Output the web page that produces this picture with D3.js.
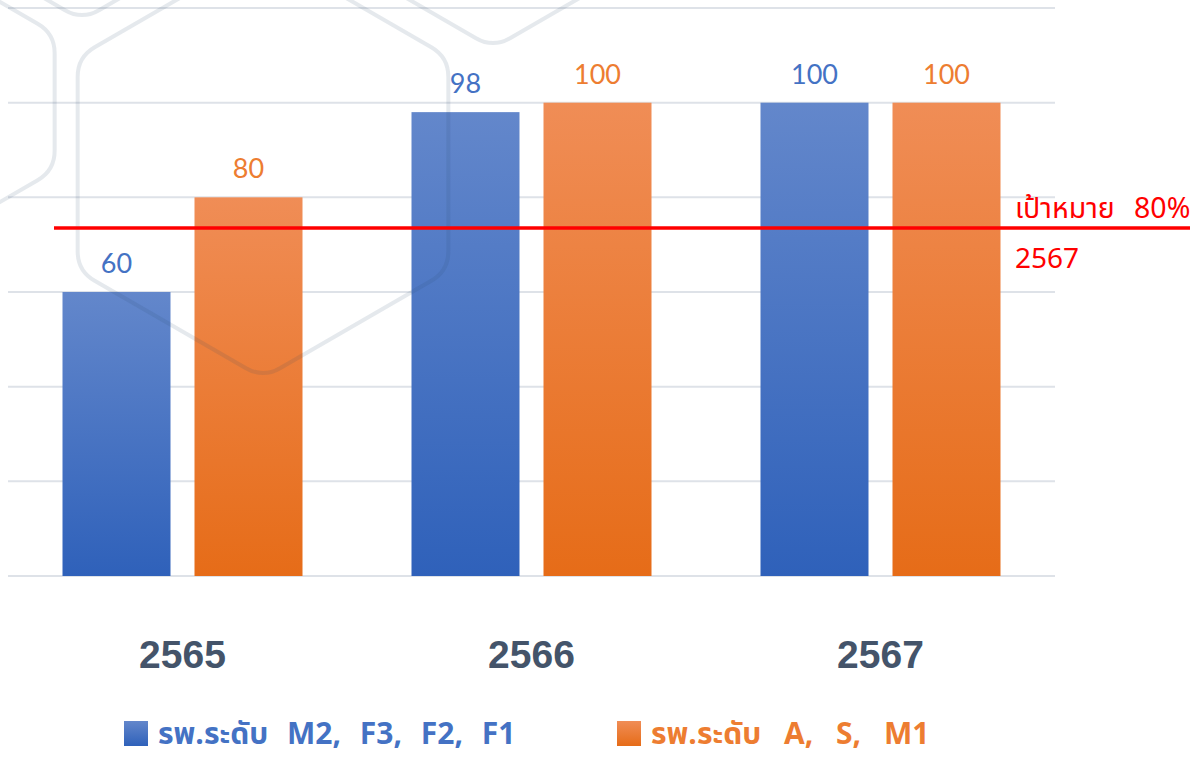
<!DOCTYPE html>
<html><head><meta charset="utf-8">
<script src="https://cdn.jsdelivr.net/npm/d3@7/dist/d3.min.js"></script>
<style>
html,body{margin:0;padding:0;background:#fff;overflow:hidden}
svg{display:block}
</style></head>
<body>
<svg id="chart" width="1201" height="759"></svg>
<script>
const years = ["2565","2566","2567"];
const seriesNames = ["รพ.ระดับ M2, F3, F2, F1","รพ.ระดับ A, S, M1"];
const seriesBlue = [60, 98, 100];
const seriesOrange = [80, 100, 100];
const yTicks = [0,20,40,60,80,100,120];
const targetLineValue = 73.5;
const targetLabel = ["เป้าหมาย 80%", "2567"];

const svg = d3.select("#chart");
const thaiFont = "'Noto Sans Thai','Noto Sans Thai UI','Loma','Garuda','Tahoma','Noto Sans',sans-serif";

const x0 = d3.scaleBand().domain(years).range([8,1055]).padding(0);
const x1 = d3.scaleBand().domain([0,1]).range([54.5, 294.5]).paddingInner(24/132).paddingOuter(0);
const y = d3.scaleLinear().domain([0,120]).range([576,8]);

const colors = ["#4472C4","#ED7D31"];
const defs = svg.append("defs");
const g1 = defs.append("linearGradient").attr("id","gBlue").attr("x1",0).attr("y1",0).attr("x2",0).attr("y2",1);
g1.append("stop").attr("offset",0).attr("stop-color","#6387CB");
g1.append("stop").attr("offset",1).attr("stop-color","#2F61BA");
const g2 = defs.append("linearGradient").attr("id","gOrange").attr("x1",0).attr("y1",0).attr("x2",0).attr("y2",1);
g2.append("stop").attr("offset",0).attr("stop-color","#F08D56");
g2.append("stop").attr("offset",1).attr("stop-color","#E66C18");
const fills = ["url(#gBlue)","url(#gOrange)"];

// gridlines
svg.append("g").selectAll("line").data(yTicks).join("line")
  .attr("x1",8).attr("x2",1055)
  .attr("y1",d=>y(d)).attr("y2",d=>y(d))
  .attr("stroke","#dee2e8").attr("stroke-width",2);

// bars
const data = years.map((yr,i)=>({yr, vals:[seriesBlue[i], seriesOrange[i]]}));
const grp = svg.append("g").selectAll("g").data(data).join("g")
  .attr("transform",d=>`translate(${x0(d.yr)},0)`);
grp.selectAll("rect").data(d=>d.vals.map((v,k)=>({v,k}))).join("rect")
  .attr("x",d=>x1(d.k)).attr("width",x1.bandwidth())
  .attr("y",d=>y(d.v)).attr("height",d=>y(0)-y(d.v))
  .attr("fill",d=>fills[d.k]);
grp.selectAll("text").data(d=>d.vals.map((v,k)=>({v,k}))).join("text")
  .attr("x",d=>x1(d.k)+x1.bandwidth()/2).attr("y",d=>y(d.v)-19)
  .attr("text-anchor","middle")
  .attr("font-family","Lato, 'Open Sans', sans-serif").attr("font-size",27)
  .attr("fill",d=>colors[d.k]).text(d=>d.v);

// decorative hexagons
function roundedHex(cx,cy,R,r){
  const pts=[];
  for(let i=0;i<6;i++){const a=Math.PI/180*(60*i-90);pts.push([cx+R*Math.cos(a),cy+R*Math.sin(a)]);}
  const d=r*Math.tan(Math.PI/6)*1.7;
  const p=d3.path();
  for(let i=0;i<6;i++){
    const prev=pts[(i+5)%6], cur=pts[i], next=pts[(i+1)%6];
    const l1=Math.hypot(cur[0]-prev[0],cur[1]-prev[1]);
    const a=[cur[0]+(prev[0]-cur[0])*d/l1, cur[1]+(prev[1]-cur[1])*d/l1];
    const b=[cur[0]+(next[0]-cur[0])*d/l1, cur[1]+(next[1]-cur[1])*d/l1];
    if(i===0)p.moveTo(a[0],a[1]);else p.lineTo(a[0],a[1]);
    p.quadraticCurveTo(cur[0],cur[1],b[0],b[1]);
  }
  p.closePath();
  return p.toString();
}
const hexes = [[263,164,214],[-64,102,137],[82,-117,137],[493,-166,214]];
svg.append("g").selectAll("path").data(hexes).join("path")
  .attr("d",d=>roundedHex(d[0],d[1],d[2],20))
  .attr("fill","none").attr("stroke","#2c4a6b").attr("stroke-opacity",0.12).attr("stroke-width",4);

// target line
svg.append("line").attr("x1",54).attr("x2",1190)
  .attr("y1",y(targetLineValue)).attr("y2",y(targetLineValue))
  .attr("stroke","#FF0000").attr("stroke-width",3.5);
svg.append("text").attr("x",1015).attr("y",y(targetLineValue)-10)
  .attr("font-family",thaiFont).attr("font-size",28.5).attr("word-spacing",12)
  .attr("fill","#FF0000").text(targetLabel[0]);
svg.append("text").attr("x",1015).attr("y",y(targetLineValue)+40)
  .attr("font-family",thaiFont).attr("font-size",28).attr("fill","#FF0000").text(targetLabel[1]);

// category labels
svg.append("g").selectAll("text").data(years).join("text")
  .attr("x",d=>x0(d)+x0.bandwidth()/2).attr("y",668)
  .attr("text-anchor","middle")
  .attr("font-family","'Liberation Sans Narrow','Liberation Sans',Arial,sans-serif")
  .attr("font-weight","bold").attr("font-size",39).attr("fill","#44546A").text(d=>d);

// legend
const legX = [124, 617];
const legWS = [11, 15];
const leg = svg.append("g").selectAll("g").data(seriesNames).join("g")
  .attr("transform",(d,i)=>`translate(${legX[i]},721)`);
leg.append("rect").attr("width",24).attr("height",25).attr("fill",(d,i)=>fills[i]);
leg.append("text").attr("x",34).attr("y",23)
  .attr("font-family",thaiFont).attr("font-weight","bold").attr("font-size",30)
  .attr("word-spacing",(d,i)=>legWS[i])
  .attr("fill",(d,i)=>colors[i]).text(d=>d);
</script>
</body></html>
